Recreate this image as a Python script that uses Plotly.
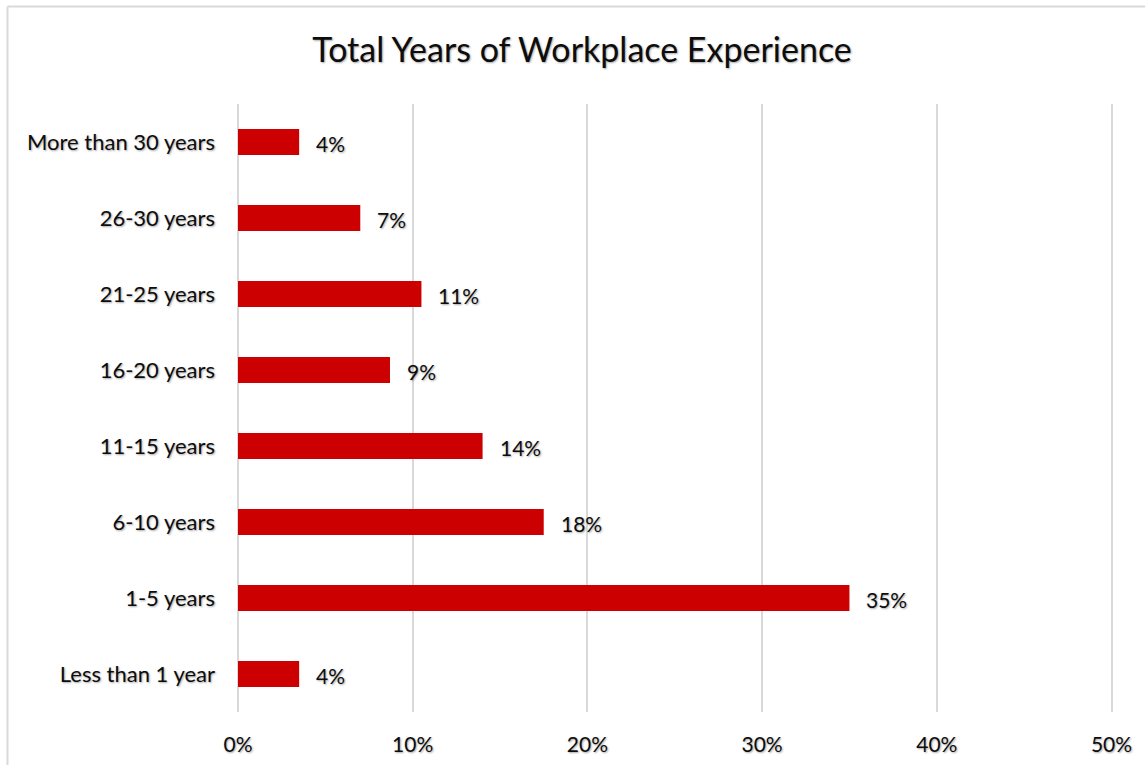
import math
import plotly.graph_objects as go

# Share of respondents by total years of workplace experience (top to bottom)
categories = [
    "More than 30 years",
    "26-30 years",
    "21-25 years",
    "16-20 years",
    "11-15 years",
    "6-10 years",
    "1-5 years",
    "Less than 1 year",
]
shares = [3.5, 7.0, 10.5, 8.7, 14.0, 17.5, 35.0, 3.5]
tick_values = [0, 10, 20, 30, 40, 50]
tick_labels = [f"{v}%" for v in tick_values]


def pct_label(v):
    # round half up, as a spreadsheet would
    return f"{math.floor(v + 0.5)}%"


FONT = "Lato"
SHADOW = "1px 1px 2px rgba(0,0,0,0.35)"
TEXT_COLOR = "#0d0d0d"
BAR_COLOR = "#CC0000"
GRID_COLOR = "#D9D9D9"

W, H = 1145, 765
X_MAX = 50.2  # a little past 50 so the 50% gridline is drawn
ML, MT, MB = 238, 104, 53
MR = W - ML - round(874 * X_MAX / 50)
plot_w = W - ML - MR
plot_h = H - MT - MB

fig = go.Figure(
    go.Bar(
        x=shares,
        y=categories,
        orientation="h",
        width=0.34,
        marker=dict(color=BAR_COLOR, line=dict(width=0)),
        hoverinfo="skip",
    )
)

# value labels just past the end of each bar
for cat, v in zip(categories, shares):
    fig.add_annotation(
        x=v,
        y=cat,
        text=pct_label(v),
        showarrow=False,
        xanchor="left",
        xshift=15,
        yshift=-1,
        font=dict(family=FONT, size=21, color=TEXT_COLOR, shadow=SHADOW),
    )

# chart frame (left and top edges visible)
bx = (7.5 - ML) / plot_w
by = 1 + (MT - 6.5) / plot_h
fig.add_shape(type="line", xref="paper", yref="paper", x0=bx, x1=bx, y0=-1, y1=by,
              line=dict(color=GRID_COLOR, width=2))
fig.add_shape(type="line", xref="paper", yref="paper", x0=bx, x1=2, y0=by, y1=by,
              line=dict(color=GRID_COLOR, width=2))

fig.update_layout(
    width=W,
    height=H,
    margin=dict(l=ML, r=MR, t=MT, b=MB, autoexpand=False),
    paper_bgcolor="white",
    plot_bgcolor="white",
    showlegend=False,
    title=dict(
        text="Total Years of Workplace Experience",
        x=582 / W,
        xanchor="center",
        y=1 - 50 / H,
        yanchor="middle",
        font=dict(family=FONT, size=34, color=TEXT_COLOR, shadow=SHADOW),
    ),
    xaxis=dict(
        range=[0, X_MAX],
        tickvals=tick_values,
        ticktext=tick_labels,
        showgrid=True,
        gridcolor=GRID_COLOR,
        gridwidth=2,
        zeroline=True,
        zerolinecolor=GRID_COLOR,
        zerolinewidth=2,
        showline=False,
        ticks="",
        automargin=False,
        ticklabelstandoff=18,
        tickfont=dict(family=FONT, size=21, color=TEXT_COLOR, shadow=SHADOW),
    ),
    yaxis=dict(
        autorange="reversed",
        showgrid=False,
        showline=False,
        ticks="",
        automargin=False,
        ticklabelstandoff=22,
        tickfont=dict(family=FONT, size=22, color=TEXT_COLOR, shadow=SHADOW),
    ),
)

fig.write_html("out.html")
